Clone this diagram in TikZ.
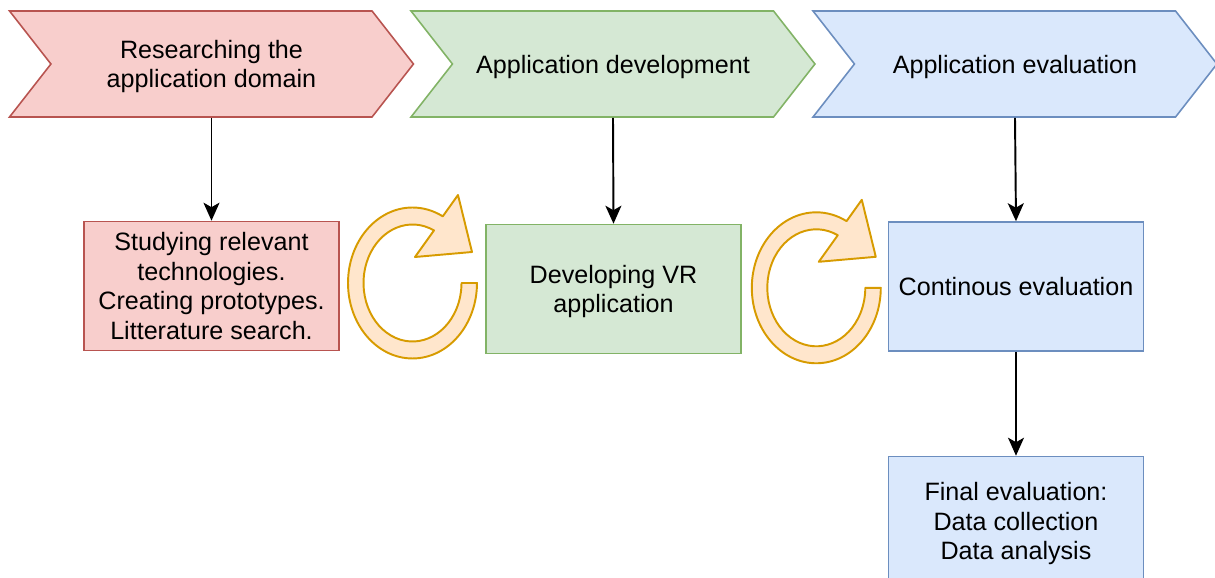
\documentclass[tikz,border=0pt]{standalone}
\usepackage{fontspec}
\setmainfont{Liberation Sans}
\usetikzlibrary{shapes.symbols,arrows.meta}

\definecolor{redfill}{HTML}{F8CECC}
\definecolor{redline}{HTML}{B85450}
\definecolor{greenfill}{HTML}{D5E8D4}
\definecolor{greenline}{HTML}{82B366}
\definecolor{bluefill}{HTML}{DAE8FC}
\definecolor{blueline}{HTML}{6C8EBF}
\definecolor{loopfill}{HTML}{FFE6CC}
\definecolor{loopline}{HTML}{D79B00}

\newcommand{\diagfont}{\fontsize{14.3}{16.8}\selectfont}

\begin{document}
\begin{tikzpicture}[x=0.02cm, y=0.02cm,
  phase/.style={signal, signal from=west, signal to=east, signal pointer angle=104,
    minimum width=8.08cm, minimum height=2.12cm, inner sep=0pt, line width=0.9pt,
    align=center, text depth=0pt, font=\diagfont},
  task/.style={rectangle, minimum width=5.1cm, minimum height=2.58cm, inner sep=0pt,
    line width=0.9pt, align=center, text depth=0pt, font=\diagfont},
  flow/.style={-{Stealth[length=0.36cm, width=0.32cm, inset=0.09cm]}, line width=1.1pt},
  loop/.style={draw=loopline, fill=loopfill, line width=1.1pt, line join=round}]
\useasboundingbox (0,0) rectangle (1215,578);

% Project phases
\node[phase, draw=redline, fill=redfill] (research) at (211.5,514) {Researching the\\application domain};
\node[phase, draw=greenline, fill=greenfill] (develop) at (613,514) {Application development};
\node[phase, draw=blueline, fill=bluefill] (evaluate) at (1015,514) {Application evaluation};

% Activities
\node[task, draw=redline, fill=redfill] (study) at (211.5,292) {Studying relevant\\technologies.\\Creating prototypes.\\Litterature search.};
\node[task, draw=greenline, fill=greenfill] (vrapp) at (613.5,289) {Developing VR\\application};
\node[task, draw=blueline, fill=bluefill] (contin) at (1016,291.5) {Continous evaluation};
\node[task, draw=blueline, fill=bluefill] (final) at (1016,57) {Final evaluation:\\Data collection\\Data analysis};

% Arrows
\draw[flow] (research.south) -- (study.north);
\draw[flow] (develop.south) -- (vrapp.north);
\draw[flow] (evaluate.south) -- (contin.north);
\draw[flow] (contin.south) -- (final.north);

% Iteration loops
\foreach \cx/\cy in {412.5/295, 816.3/290.2} {
  \begin{scope}[shift={(\cx,\cy)}]
    \draw[loop] (0:1.29cm and 1.51cm)
      arc[start angle=0, end angle=-298, x radius=1.29cm, y radius=1.51cm]
      -- (45.5,88) -- (59.5,31) -- (2.5,26)
      -- (-296:0.98cm and 1.17cm)
      arc[start angle=-296, end angle=0, x radius=0.98cm, y radius=1.17cm]
      -- cycle;
  \end{scope}
}

\end{tikzpicture}
\end{document}
